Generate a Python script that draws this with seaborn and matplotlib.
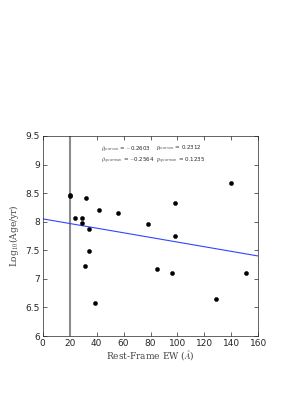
import numpy as np
import pandas as pd
import matplotlib
matplotlib.use('Agg')
import matplotlib.pyplot as plt
import seaborn as sns

# 数据：等值宽度与年龄
ew = [20.0, 20.6, 24.2, 29.4, 29.4, 32.1, 34.0, 42.0, 56.0, 77.8, 98.0, 97.8, 140.0,
      31.6, 34.5, 38.5, 84.7, 95.8, 128.6, 150.6]
log_age = [8.45, 8.46, 8.06, 8.07, 7.97, 8.41, 7.88, 8.20, 8.16, 7.96, 8.32, 7.75, 8.67,
           7.22, 7.48, 6.57, 7.17, 7.11, 6.64, 7.11]

# 拟合直线
fit_x = [0, 160]
fit_y = [8.05, 7.40]

ew_cut = 20

stats_text = [r'$\rho_{pearson}$ = $-$0.2603', r'$p_{pearson}$ = 0.2312',
              r'$\rho_{spearman}$ = $-$0.2564', r'$p_{spearman}$ = 0.1235']

df = pd.DataFrame({'ew': ew, 'age': log_age})
fit_df = pd.DataFrame({'x': fit_x, 'y': fit_y})

sns.set_style('ticks')
plt.rcParams['font.family'] = ['DejaVu Sans']
plt.rcParams['mathtext.fontset'] = 'cm'

fig = plt.figure(figsize=(3.05, 3.94), dpi=100)
ax = fig.add_axes([0.14, 0.147, 0.707, 0.508])

ax.axvline(ew_cut, color='#8c8c8c', lw=1.5, zorder=1)
sns.lineplot(data=fit_df, x='x', y='y', color='#3344ff', lw=0.8, ax=ax, zorder=2)
sns.scatterplot(data=df, x='ew', y='age', color='black', s=9, edgecolor='black',
                linewidth=0.3, ax=ax, zorder=3)

ax.set_xlim(0, 160)
ax.set_ylim(6, 9.5)
ax.set_xticks(np.arange(0, 161, 20))
ax.set_yticks(np.arange(6, 9.51, 0.5))
ax.set_yticklabels(['6', '6.5', '7', '7.5', '8', '8.5', '9', '9.5'])
ax.tick_params(direction='in', length=3, width=0.5, labelsize=6.5, top=True, right=True, pad=2)
for sp in ax.spines.values():
    sp.set_linewidth(0.5)

ax.set_xlabel(r'Rest-Frame EW ($\AA$)', fontsize=6.5, family='serif', labelpad=0, color='#444444')
ax.set_ylabel(r'Log$_{10}$(Age/yr)', fontsize=6.5, family='serif', labelpad=3, color='#444444')

ax.text(43.5, 9.27, stats_text[0], fontsize=4, va='center')
ax.text(84, 9.27, stats_text[1], fontsize=4, va='center')
ax.text(43.5, 9.07, stats_text[2], fontsize=4, va='center')
ax.text(84, 9.07, stats_text[3], fontsize=4, va='center')

fig.savefig('out.png', dpi=100)
